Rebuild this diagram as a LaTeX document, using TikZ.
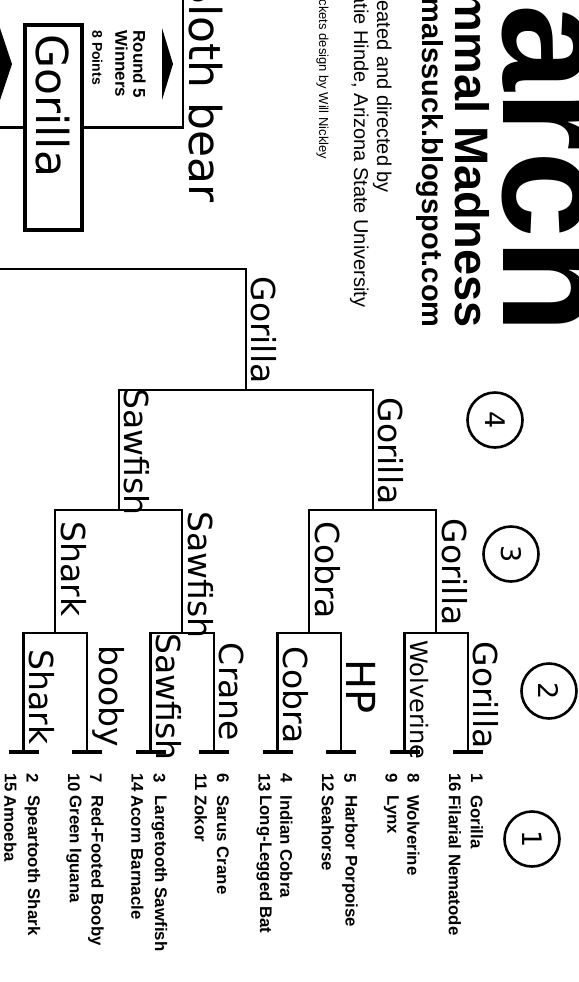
\documentclass[tikz,border=0pt]{standalone}
\usepackage{fontspec}
\setmainfont{Liberation Sans}
\newfontfamily\handfont{DejaVu Sans}
\usepackage{tikz}

\begin{document}
\begin{tikzpicture}[
  x=0.5pt, y=-0.5pt,
  bline/.style={line width=1.2pt, draw=black},
  tick/.style={line width=1.6pt, draw=black},
  seed/.style={rotate=-90, anchor=west, inner sep=0pt,
               font=\fontsize{8.4}{9}\selectfont\bfseries},
  head/.style={rotate=-90, inner sep=0pt},
  hand/.style={rotate=-90, anchor=south, inner sep=1pt,
               font=\handfont\fontsize{16.5}{17}\selectfont},
  round/.style={circle, draw, line width=1.3pt, minimum size=27.5pt,
                inner sep=0pt, rotate=-90,
                font=\handfont\fontsize{13.5}{14}\selectfont},
  cbox/.style={draw, line width=1.75pt, minimum width=28.5pt,
               minimum height=102.5pt, inner sep=0pt},
]
\useasboundingbox (0,0) rectangle (579,982);
\clip (0,0) rectangle (579,982);

% ---------------- header ----------------
\node[head, anchor=base east, font=\fontsize{78}{78}\selectfont\bfseries]
  (ttl) at (503,334) {March};
\node[head, anchor=base east, font=\fontsize{23.5}{24}\selectfont\bfseries]
  (sub) at (455,328) {Mammal Madness};
\node[head, anchor=base east, font=\fontsize{14.5}{15}\selectfont\bfseries]
  (web) at (422,328) {animalssuck.blogspot.com};
\node[head, anchor=base west, font=\fontsize{10}{12}\selectfont]
  (cr1) at (377,-21) {Created and directed by};
\node[head, anchor=base west, font=\fontsize{10}{12}\selectfont]
  (cr2) at (354,-21) {Katie Hinde, Arizona State University};
\node[head, anchor=base west, font=\fontsize{6.5}{8}\selectfont]
  (cr3) at (319,-21) {Brackets design by Will Nickley};

% ---------------- seeds (round 1) ----------------
\foreach \sx/\topnum/\topname/\botnum/\botname [count=\k] in {
    468/1/Gorilla/16/Filarial Nematode,
    404.5/8/Wolverine/9/Lynx,
    341/5/Harbor Porpoise/12/Seahorse,
    277.5/4/Indian Cobra/13/Long-Legged Bat,
    214/6/Sarus Crane/11/Zokor,
    150.5/3/Largetooth Sawfish/14/Acorn Barnacle,
    87/7/Red-Footed Booby/10/Green Iguana,
    23.5/2/Speartooth Shark/15/Amoeba}{
  \coordinate (a\k) at (\sx,752);
  \draw[tick] (a\k) +(-15,0) -- +(15,0);
  \node[seed] (tn\k) at (\sx+9,773) {\topnum};
  \node[seed] (tt\k) at (\sx+9,795) {\topname};
  \node[seed] (bn\k) at (\sx-13,773) {\botnum};
  \node[seed] (bt\k) at (\sx-13,795) {\botname};
}

% ---------------- bracket ----------------
\coordinate (b1) at (436.25,633);
\coordinate (b2) at (309.25,633);
\coordinate (b3) at (182.25,633);
\coordinate (b4) at (55.25,633);
\coordinate (c1) at (372.75,510);
\coordinate (c2) at (118.75,510);
\coordinate (d1) at (245.75,390);
\coordinate (e1) at (245.75,269);
\coordinate (e0) at (0,269);

\draw[bline] (a1) |- (b1) -| (a2);
\draw[bline] (a3) |- (b2) -| (a4);
\draw[bline] (a5) |- (b3) -| (a6);
\draw[bline] (a7) |- (b4) -| (a8);
\draw[bline] (b1) |- (c1) -| (b2);
\draw[bline] (b3) |- (c2) -| (b4);
\draw[bline] (c1) |- (d1) -| (c2);
\draw[bline] (d1) -- (e1) -- (e0);

% ---------------- picks written on the lines ----------------
\node[hand] (w1) at (471,695) {Gorilla};
\node[hand, font=\handfont\fontsize{12}{12}\selectfont] (w2) at (407.5,700) {Wolverine};
\node[hand, font=\handfont\fontsize{20}{20}\selectfont] (w3) at (344,687) {HP};
\node[hand] (w4) at (280.5,695) {Cobra};
\node[hand] (w5) at (217,692) {Crane};
\node[hand] (w6) at (153.5,697) {Sawfish};
\node[hand] (w7) at (90,696) {booby};
\node[hand] (w8) at (26.5,697) {Shark};

\node[hand] (v1) at (439.25,572) {Gorilla};
\node[hand] (v2) at (312.25,570) {Cobra};
\node[hand] (v3) at (185.25,575) {Sawfish};
\node[hand] (v4) at (58.25,569) {Shark};

\node[hand] (u1) at (375.75,451) {Gorilla};
\node[hand] (u2) at (121.75,452) {Sawfish};

\node[hand] (t1) at (248.75,330) {Gorilla};

% ---------------- round numbers ----------------
\node[round] (r1) at (532,839) {1};
\node[round] (r2) at (549,691) {2};
\node[round] (r3) at (511,554) {3};
\node[round] (r4) at (495,420) {4};

% ---------------- round 5 box ----------------
\node[cbox] (champ) at (53.5,127.5) {};
\node[hand, anchor=west, font=\handfont\fontsize{22}{22}\selectfont]
  (cw) at (53,32) {Gorilla};
\coordinate (g0) at (0,127.5);
\coordinate (g1) at (183,0);
\draw[bline] (g0) -- (champ.west);
\draw[bline] (champ.east) -| (g1);

\node[head, anchor=north west, align=left,
      font=\fontsize{8.5}{9}\selectfont\bfseries]
  (rw) at (146,30) {Round 5\\Winners\\[2.5pt]{\fontsize{7}{8}\selectfont 8 Points}};
\fill (162,28) -- (173,64) -- (162,100) -- cycle;
\fill (0,28) -- (12,64) -- (0,100) -- cycle;

\node[hand, anchor=south east, font=\handfont\fontsize{22}{22}\selectfont]
  (sb) at (186,205) {Sloth bear};

\end{tikzpicture}
\end{document}
